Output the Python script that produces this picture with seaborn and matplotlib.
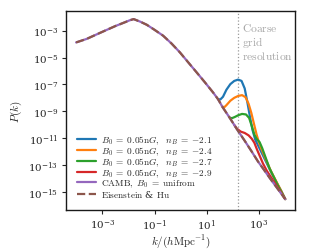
import numpy as np
import matplotlib
matplotlib.use("Agg")
import matplotlib.pyplot as plt
import seaborn as sns

# values, as log10(k) and log10(P)
base_logk = [-4.0, -3.6, -3.1, -2.5, -2.1, -1.95, -1.8, -1.55, -1.3, -1.0, -0.67, -0.35,
             -0.03, 0.3, 0.61, 0.93, 1.24, 1.43, 1.60, 1.88, 2.19, 2.45, 2.7, 2.96,
             3.2, 3.41, 3.7, 4.0]
base_logp = [-3.87, -3.61, -3.17, -2.65, -2.34, -2.22, -2.13, -2.32, -2.55, -2.93, -3.37, -3.95,
             -4.61, -5.38, -6.10, -6.85, -7.60, -8.10, -8.68, -9.50, -10.45, -11.20, -11.95, -12.75,
             -13.40, -13.98, -14.75, -15.55]

blue_logk = [1.43, 1.52, 1.62, 1.75, 1.90, 2.05, 2.20, 2.33, 2.45, 2.55, 2.65, 2.75, 2.85,
             2.95, 3.05, 3.25, 3.45, 3.65, 3.85, 4.0]
blue_logp = [-8.10, -8.12, -7.92, -7.40, -6.98, -6.74, -6.64, -6.74, -7.30, -8.30, -9.40, -10.40, -11.10,
             -11.50, -11.90, -12.70, -13.50, -14.25, -14.95, -15.55]

orange_logk = [1.58, 1.66, 1.75, 1.90, 2.05, 2.20, 2.35, 2.48, 2.60, 2.70, 2.80, 2.90,
               3.00, 3.10, 3.25, 3.45, 3.65, 3.85, 4.0]
orange_logp = [-8.62, -8.72, -8.55, -8.22, -8.00, -7.86, -7.80, -7.95, -8.45, -9.10, -9.90, -10.70,
               -11.35, -11.85, -12.55, -13.45, -14.20, -14.95, -15.55]

green_logk = [1.88, 1.96, 2.08, 2.20, 2.35, 2.50, 2.62, 2.72, 2.82, 2.92, 3.02, 3.12,
              3.25, 3.40, 3.55, 3.75, 4.0]
green_logp = [-9.48, -9.52, -9.42, -9.30, -9.20, -9.24, -9.50, -10.10, -10.75, -11.10, -11.30, -11.75,
              -12.45, -13.25, -13.85, -14.65, -15.55]

red_logk = [2.05, 2.15, 2.30, 2.45, 2.60, 2.72, 2.82, 2.92, 3.03, 3.15, 3.30, 3.50, 3.75, 4.0]
red_logp = [-10.02, -10.30, -10.52, -10.62, -10.80, -11.05, -11.35, -11.85, -12.35, -12.90,
            -13.45, -14.05, -14.80, -15.55]

labels = [r"$B_0\;=\;0.05\mathrm{n}G,\ \ n_B\;=\;{-}2.1$",
          r"$B_0\;=\;0.05\mathrm{n}G,\ \ n_B\;=\;{-}2.4$",
          r"$B_0\;=\;0.05\mathrm{n}G,\ \ n_B\;=\;{-}2.7$",
          r"$B_0\;=\;0.05\mathrm{n}G,\ \ n_B\;=\;{-}2.9$",
          r"$\mathrm{CAMB},\ B_0\;=\;\mathrm{unifrom}$",
          r"$\mathrm{Eisenstein}$ & $\mathrm{Hu}$"]
k_grid = 10 ** 2.19

sns.set_style("ticks")
plt.rcParams["mathtext.fontset"] = "cm"
plt.rcParams["font.family"] = ["DejaVu Serif"]

fig = plt.figure(figsize=(3.28, 2.51), dpi=100)
ax = fig.add_axes([0.201, 0.159, 0.698, 0.793])

pal = sns.color_palette("tab10")
series = [(blue_logk, blue_logp), (orange_logk, orange_logp),
          (green_logk, green_logp), (red_logk, red_logp)]
for i, (lk, lp) in enumerate(series):
    sns.lineplot(x=10 ** np.array(lk), y=10 ** np.array(lp), color=pal[i],
                 lw=1.6, label=labels[i], ax=ax)
sns.lineplot(x=10 ** np.array(base_logk), y=10 ** np.array(base_logp), color=pal[4],
             lw=1.6, label=labels[4], ax=ax)
sns.lineplot(x=10 ** np.array(base_logk), y=10 ** np.array(base_logp), color=pal[5],
             lw=1.6, ls="--", label=labels[5], ax=ax)

ax.axvline(k_grid, color="0.6", ls=":", lw=0.9, zorder=0)
ax.text(10 ** 2.36, 10 ** -2.25, "$\\mathrm{Coarse}$\n$\\mathrm{grid}$\n$\\mathrm{resolution}$",
        color="0.65", fontsize=8.3, va="top", ha="left", linespacing=1.0)

ax.set(xscale="log", yscale="log")
ax.set_xlim(10 ** -4.39, 10 ** 4.37)
ax.set_ylim(10 ** -16.37, 10 ** -1.53)
ax.set_xticks([1e-3, 1e-1, 1e1, 1e3])
ax.set_yticks([10.0 ** p for p in [-3, -5, -7, -9, -11, -13, -15]])
ax.minorticks_off()
ax.tick_params(labelsize=7.5, length=3, width=0.8, colors="0.15", pad=2.5)
for s in ax.spines.values():
    s.set_linewidth(1.0)
    s.set_color("0.1")

ax.set_xlabel(r"$k/(h\mathrm{Mpc}^{-1})$", fontsize=8, labelpad=0)
ax.set_ylabel(r"$P(k)$", fontsize=8, labelpad=3)

ax.legend(loc="lower left", fontsize=6.7, frameon=False, handlelength=2.0,
          handletextpad=0.6, labelspacing=-0.15, borderaxespad=0.8)

plt.savefig("out.png", dpi=100)
